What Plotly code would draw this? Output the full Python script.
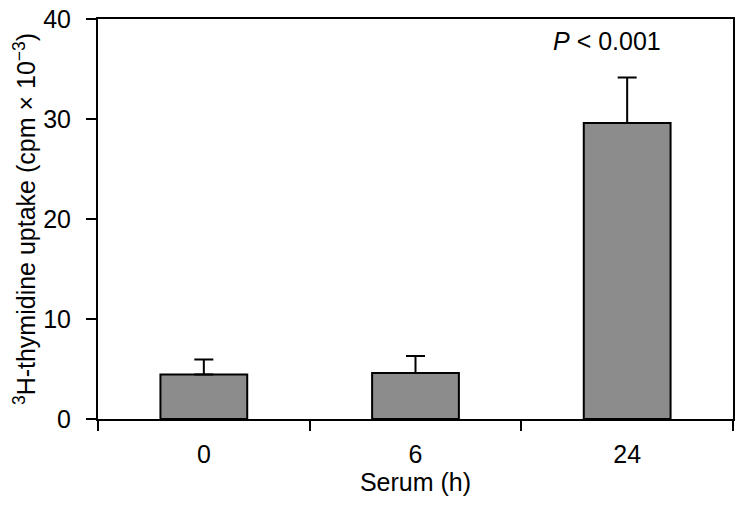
import plotly.graph_objects as go

categories = ["0", "6", "24"]
values = [4.45, 4.6, 29.6]
errors_up = [1.5, 1.7, 4.55]
y_ticks = [0, 10, 20, 30, 40]
p_label = "<i>P</i> < 0.001"

FONT = "Liberation Sans, Arial, Helvetica, sans-serif"

fig = go.Figure()
fig.add_trace(go.Bar(
    x=categories,
    y=values,
    width=0.41,
    marker=dict(color="#8c8c8c", line=dict(color="black", width=2)),
    error_y=dict(type="data", symmetric=False, array=errors_up,
                 arrayminus=[0] * len(values), color="black",
                 thickness=2, width=9.5),
))

fig.add_annotation(xref="x", yref="y", x=2, y=37.8, text=p_label, showarrow=False,
                   xshift=-20,
                   font=dict(size=25, color="black", family=FONT),
                   xanchor="center", yanchor="middle")

fig.update_layout(
    width=740, height=507,
    margin=dict(l=98, r=5, t=11, b=88),
    plot_bgcolor="white", paper_bgcolor="white",
    showlegend=False,
    font=dict(family=FONT, size=25, color="black"),
    xaxis=dict(
        type="category", range=[-0.5, 2.5], tickson="boundaries",
        ticks="outside", ticklen=10, tickwidth=2, tickcolor="black",
        showline=True, linecolor="black", linewidth=2, mirror=True,
        showgrid=False, zeroline=False, ticklabelstandoff=12,
        tickfont=dict(size=25),
        title=dict(text="Serum (h)", font=dict(size=25), standoff=6),
    ),
    yaxis=dict(
        range=[0, 40], tickvals=y_ticks,
        ticks="outside", ticklen=10, tickwidth=2, tickcolor="black",
        showline=True, linecolor="black", linewidth=2, mirror=True,
        showgrid=False, zeroline=False, ticklabeloverflow="allow",
        ticklabelstandoff=10,
        tickfont=dict(size=25),
        title=dict(text="<sup>3</sup>H-thymidine uptake (cpm × 10<sup>−3</sup>)",
                   font=dict(size=25), standoff=0),
    ),
)

fig.write_html("out.html", config={"displayModeBar": False},
               post_script="document.body.style.margin='0';")
